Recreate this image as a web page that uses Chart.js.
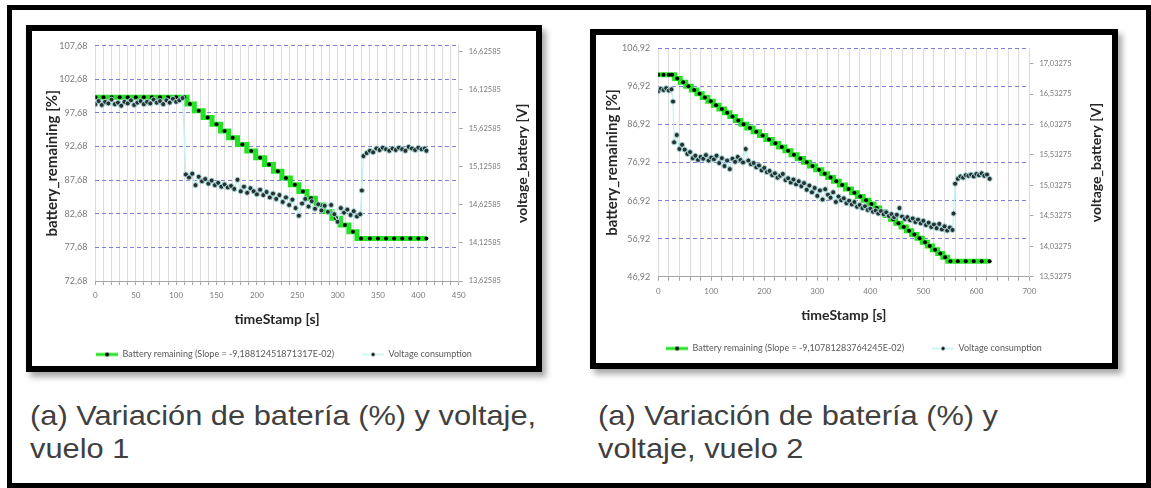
<!DOCTYPE html>
<html lang="es">
<head>
  <meta charset="UTF-8">
  <title>Variación de batería (%) y voltaje</title>
  <script src="https://cdn.jsdelivr.net/npm/chart.js"></script>
  <style>
    body {
      margin: 0;
      background: #fff;
      font-family: 'Liberation Sans', Arial, sans-serif;
    }
    .page {
      position: relative;
      width: 1151px;
      height: 488px;
      overflow: hidden;
    }
    .outer {
      position: absolute;
      left: 7px;
      top: 5px;
      width: 1144px;
      height: 483px;
      border: 5px solid #000;
      box-sizing: border-box;
    }
    .frame {
      position: absolute;
      border: 6px solid #000;
      box-sizing: border-box;
      background: #fff;
      box-shadow: 4px 5px 6px rgba(0, 0, 0, 0.35);
    }
    canvas {
      position: absolute;
    }
    .caption {
      position: absolute;
      top: 399px;
      font-size: 28px;
      line-height: 33px;
      color: #404040;
      white-space: nowrap;
      transform: scaleX(1.1);
      transform-origin: left top;
    }
  </style>
</head>
<body>
  <div class="page">
    <div class="outer"></div>

    <!-- vuelo 1 -->
    <div class="frame" style="left:26px; top:25px; width:516px; height:347px;"></div>
    <canvas id="vuelo1" width="504" height="338" style="left:32px; top:31px;"></canvas>
    <div class="caption" style="left:30px;">(a) Variación de batería (%) y voltaje,<br>vuelo 1</div>

    <!-- vuelo 2 -->
    <div class="frame" style="left:590px; top:29px; width:528px; height:340px;"></div>
    <canvas id="vuelo2" width="516" height="328" style="left:596px; top:35px;"></canvas>
    <div class="caption" style="left:598px;">(a) Variación de batería (%) y<br>voltaje, vuelo 2</div>
  </div>

  <script>
    // ---- vuelo 1: battery remaining [%] ----
    const v1BattT = [0, 10, 20, 30, 40, 50, 60, 70, 80, 90, 100, 110,
      117, 128, 139, 150, 160, 170, 182, 193, 204, 215, 226, 236, 247, 257, 267, 278, 288, 298, 309, 319, 329,
      340, 350, 360, 370, 380, 390, 400, 410];
    const v1BattPct = [100, 100, 100, 100, 100, 100, 100, 100, 100, 100, 100, 100,
      99, 98, 97, 96, 95, 94, 93, 92, 91, 90, 89, 88, 87, 86, 85, 84, 83, 82, 81, 80, 79,
      79, 79, 79, 79, 79, 79, 79, 79];

    // ---- vuelo 1: voltage_battery [V] ----
    const v1VoltT = [
      0, 4, 8, 12, 16, 20, 24, 28, 32, 36,
      40, 44, 48, 52, 56, 60, 64, 68, 72, 76,
      80, 84, 88, 92, 96, 100, 104, 108, 112, 116,
      120, 124, 128, 132, 136, 140, 144, 148, 152, 156,
      160, 164, 168, 172, 176, 180, 184, 188, 192, 196,
      200, 204, 208, 212, 216, 220, 224, 228, 232, 236,
      240, 244, 248, 252, 256, 260, 264, 268, 272, 276,
      280, 284, 288, 292, 296, 300, 304, 308, 312, 316,
      320, 324, 328, 330, 332, 336, 340, 344, 348, 352,
      356, 360, 364, 368, 372, 376, 380, 384, 388, 392,
      396, 400, 404, 408, 410];
    const v1Volt = [
      15.94, 15.98, 15.93, 15.97, 15.95, 16.00, 15.94, 15.96, 15.92, 15.97,
      15.95, 15.99, 15.93, 15.96, 15.98, 15.94, 15.97, 15.95, 16.00, 15.96,
      15.98, 15.94, 15.99, 15.96, 16.01, 15.97, 15.99, 16.02, 15.02, 14.98,
      15.03, 14.88, 14.99, 14.93, 14.96, 14.90, 14.94, 14.88, 14.91, 14.86,
      14.89, 14.85, 14.87, 14.83, 14.95, 14.80, 14.86, 14.78, 14.84, 14.80,
      14.76, 14.82, 14.75, 14.79, 14.72, 14.77, 14.70, 14.75, 14.66, 14.72,
      14.62, 14.69, 14.58, 14.48, 14.64, 14.70, 14.60, 14.67, 14.57, 14.63,
      14.55, 14.61, 14.53, 14.62, 14.50, 14.40, 14.58, 14.52, 14.56, 14.49,
      14.54, 14.47, 14.50, 14.81, 15.26, 15.30, 15.33, 15.31, 15.36, 15.34,
      15.37, 15.35, 15.33, 15.36, 15.34, 15.37, 15.35, 15.33, 15.38, 15.36,
      15.34, 15.37, 15.35, 15.36, 15.33];

    const v1XLabels = [0, 50, 100, 150, 200, 250, 300, 350, 400, 450];
    const v1PctTicks = [72.68, 77.68, 82.68, 87.68, 92.68, 97.68, 102.68, 107.68];
    const v1VoltTicks = [13.62585, 14.12585, 14.62585, 15.12585, 15.62585, 16.12585, 16.62585];
    const v1BattLabel = 'Battery remaining (Slope = -9,18812451871317E-02)';

    // ---- vuelo 2: battery remaining [%] ----
    const v2BattT = [0, 10, 20, 26,
      36, 47, 57, 68, 78, 88, 99, 109, 120, 130, 140, 151, 161,
      173, 185, 197, 209, 221, 233, 245, 256, 268, 280,
      291, 303, 314, 325, 336, 347, 359, 370, 381, 392,
      402, 412, 423, 433, 443, 453, 463, 473, 483, 493,
      503, 512, 522, 532, 541, 551,
      565, 580, 595, 610, 625];
    const v2BattPct = [100, 100, 100, 100,
      99, 98, 97, 96, 95, 94, 93, 92, 91, 90, 89, 88, 87,
      86, 85, 84, 83, 82, 81, 80, 79, 78, 77,
      76, 75, 74, 73, 72, 71, 70, 69, 68, 67,
      66, 65, 64, 63, 62, 61, 60, 59, 58, 57,
      56, 55, 54, 53, 52, 51,
      51, 51, 51, 51, 51];

    // ---- vuelo 2: voltage_battery [V] ----
    const v2VoltT = [
      0, 5, 10, 15, 20, 25, 28, 30, 35, 40,
      45, 50, 55, 60, 65, 70, 75, 80, 85, 90,
      95, 100, 105, 110, 115, 120, 125, 130, 135, 140,
      145, 150, 155, 160, 165, 170, 175, 180, 185, 190,
      195, 200, 205, 210, 215, 220, 225, 230, 235, 240,
      245, 250, 255, 260, 265, 270, 275, 280, 285, 290,
      295, 300, 305, 310, 315, 320, 325, 330, 335, 340,
      345, 350, 355, 360, 365, 370, 375, 380, 385, 390,
      395, 400, 405, 410, 415, 420, 425, 430, 435, 440,
      445, 450, 455, 460, 465, 470, 475, 480, 485, 490,
      495, 500, 505, 510, 515, 520, 525, 530, 535, 540,
      545, 550, 555, 557, 560, 565, 570, 575, 580, 585,
      590, 595, 600, 605, 610, 615, 620, 625];
    const v2Volt = [
      16.58, 16.62, 16.60, 16.63, 16.59, 16.61, 16.41, 15.74, 15.86, 15.63,
      15.70, 15.62, 15.55, 15.58, 15.48, 15.52, 15.45, 15.50, 15.47, 15.53,
      15.44, 15.49, 15.46, 15.52, 15.40, 15.48, 15.35, 15.44, 15.30, 15.47,
      15.42, 15.50, 15.45, 15.41, 15.63, 15.44, 15.38, 15.40, 15.33, 15.36,
      15.28, 15.32, 15.25, 15.27, 15.20, 15.23, 15.16, 15.19, 15.22, 15.12,
      15.15, 15.08, 15.13, 15.05, 15.10, 15.02, 15.07, 14.96, 15.03, 14.92,
      14.99, 14.86, 14.95, 14.80, 14.97, 14.88, 14.83, 14.92, 14.76, 14.85,
      14.79, 14.82, 14.74, 14.78, 14.72, 14.76, 14.68, 14.71, 14.66, 14.69,
      14.63, 14.65, 14.60, 14.62, 14.57, 14.61, 14.56, 14.59, 14.53, 14.56,
      14.51, 14.55, 14.66, 14.52, 14.48, 14.51, 14.46, 14.49, 14.43, 14.47,
      14.41, 14.45, 14.38, 14.42, 14.35, 14.39, 14.33, 14.40, 14.31, 14.36,
      14.29, 14.34, 14.30, 14.57, 15.06, 15.14, 15.18, 15.16, 15.20, 15.19,
      15.21, 15.18, 15.22, 15.20, 15.23, 15.19, 15.21, 15.14];

    const v2XLabels = [0, 100, 200, 300, 400, 500, 600, 700];
    const v2PctTicks = [46.92, 56.92, 66.92, 76.92, 86.92, 96.92, 106.92];
    const v2VoltTicks = [13.53275, 14.03275, 14.53275, 15.03275, 15.53275, 16.03275, 16.53275, 17.03275];
    const v2BattLabel = 'Battery remaining (Slope = -9,10781283764245E-02)';

    const GREEN = '#21e321';
    const fmt = (v, d) => v.toFixed(d).replace('.', ',');

    Chart.defaults.font.family = "Lato, 'Open Sans', sans-serif";

    // legend sample: short line with a black dot in the middle
    function legendIcon(color, width, r) {
      const c = document.createElement('canvas');
      c.width = 22;
      c.height = 8;
      const g = c.getContext('2d');
      g.strokeStyle = color;
      g.lineWidth = width;
      g.beginPath();
      g.moveTo(0, 4);
      g.lineTo(22, 4);
      g.stroke();
      g.fillStyle = '#000';
      g.beginPath();
      g.arc(11, 4, r, 0, Math.PI * 2);
      g.fill();
      return c;
    }
    const icons = [legendIcon(GREEN, 3, 2), legendIcon('#bff3f3', 1.5, 1.7)];

    // right axis title reads bottom-to-top, as in the left one
    const rightTitle = {
      id: 'rightTitle',
      afterDraw(chart, args, opts) {
        const { ctx, chartArea } = chart;
        ctx.save();
        ctx.font = "bold 14px Lato, 'Open Sans', sans-serif";
        ctx.fillStyle = '#262626';
        ctx.textAlign = 'center';
        ctx.textBaseline = 'middle';
        ctx.translate(opts.x, (chartArea.top + chartArea.bottom) / 2);
        ctx.rotate(-Math.PI / 2);
        ctx.fillText(opts.text, 0, 0);
        ctx.restore();
      }
    };

    function buildChart(id, s) {
      return new Chart(document.getElementById(id), {
        type: 'line',
        data: {
          datasets: [
            {
              label: s.battLabel,
              data: s.battT.map((t, i) => ({ x: t, y: s.battPct[i] })),
              yAxisID: 'y',
              stepped: 'middle',
              borderColor: GREEN,
              borderWidth: 5,
              pointRadius: 2,
              pointBackgroundColor: '#000',
              pointBorderWidth: 0,
              order: 2
            },
            {
              label: 'Voltage consumption',
              data: s.voltT.map((t, i) => ({ x: t, y: s.volt[i] })),
              yAxisID: 'y1',
              borderColor: '#bff3f3',
              borderWidth: 1.2,
              pointRadius: 2.5,
              pointBackgroundColor: '#263030',
              pointBorderColor: '#a4d4d4',
              pointBorderWidth: 1,
              order: 1
            }
          ]
        },
        options: {
          responsive: false,
          animation: false,
          events: [],
          layout: { padding: { top: s.padTop, left: 0, right: 0, bottom: 0 }, autoPadding: false },
          scales: {
            x: {
              type: 'linear',
              min: 0,
              max: s.xMax,
              afterBuildTicks: sc => {
                const t = [];
                for (let v = 0; v <= s.xMax; v += s.xMinor) t.push({ value: v });
                sc.ticks = t;
              },
              afterFit: sc => { sc.height = s.xH; },
              grid: { color: '#dcdcdc', tickColor: '#a6a6a6', tickLength: 4 },
              border: { color: '#a6a6a6', dash: [] },
              ticks: {
                autoSkip: false,
                maxRotation: 0,
                padding: 6,
                color: '#7a7a7a',
                font: { size: 8 },
                callback: v => s.xLabels.includes(v) ? String(v) : ''
              },
              title: {
                display: true,
                text: 'timeStamp [s]',
                color: '#262626',
                font: { size: 14, weight: 'bold' },
                padding: { top: 0, bottom: s.xTitlePad }
              }
            },
            y: {
              position: 'left',
              min: s.pctTicks[0],
              max: s.pctTicks[s.pctTicks.length - 1],
              afterBuildTicks: sc => { sc.ticks = s.pctTicks.map(v => ({ value: v })); },
              afterFit: sc => { sc.width = s.yW; },
              grid: { color: '#8080dc', drawTicks: false },
              border: { display: false, dash: [4, 3] },
              ticks: {
                autoSkip: false,
                padding: 8,
                color: '#7a7a7a',
                font: { size: 9 },
                callback: v => fmt(v, 2)
              },
              title: {
                display: true,
                text: 'battery_remaining [%]',
                color: '#262626',
                font: { size: 15, weight: 'bold' },
                padding: { top: s.yTitlePad, bottom: 0 }
              }
            },
            y1: {
              position: 'right',
              min: s.voltTicks[0],
              max: s.voltMax,
              afterBuildTicks: sc => { sc.ticks = s.voltTicks.map(v => ({ value: v })); },
              afterFit: sc => { sc.width = s.y1W; },
              grid: { drawOnChartArea: false, color: '#a6a6a6', tickLength: 4 },
              border: { display: true, color: '#d9d9d9' },
              ticks: {
                autoSkip: false,
                padding: 6,
                color: '#7a7a7a',
                font: { size: 7.5 },
                callback: v => fmt(v, 5)
              }
            }
          },
          plugins: {
            tooltip: { enabled: false },
            rightTitle: { text: 'voltage_battery [V]', x: s.rightTitleX },
            legend: {
              position: 'bottom',
              labels: {
                usePointStyle: true,
                pointStyleWidth: 22,
                padding: 28,
                color: '#595959',
                font: { size: 9 },
                generateLabels: ch => ch.data.datasets.map((d, i) => ({
                  text: d.label,
                  pointStyle: icons[i],
                  fillStyle: '#000',
                  strokeStyle: '#000',
                  lineWidth: 0,
                  hidden: false,
                  datasetIndex: i,
                  fontColor: '#595959'
                }))
              }
            }
          }
        },
        plugins: [rightTitle]
      });
    }

    buildChart('vuelo1', {
      battT: v1BattT, battPct: v1BattPct, voltT: v1VoltT, volt: v1Volt,
      battLabel: v1BattLabel, xLabels: v1XLabels, pctTicks: v1PctTicks, voltTicks: v1VoltTicks,
      xMax: 450, xMinor: 10, voltMax: 16.705,
      padTop: 14.7, yW: 63.4, y1W: 77.3, xH: 41, xTitlePad: -5.4, yTitlePad: 11, rightTitleX: 490
    });

    buildChart('vuelo2', {
      battT: v2BattT, battPct: v2BattPct, voltT: v2VoltT, volt: v2Volt,
      battLabel: v2BattLabel, xLabels: v2XLabels, pctTicks: v2PctTicks, voltTicks: v2VoltTicks,
      xMax: 700, xMinor: 20, voltMax: 17.28275,
      padTop: 11.7, yW: 62.2, y1W: 82.6, xH: 39.3, xTitlePad: -7.4, yTitlePad: 7.6, rightTitleX: 500
    });
  </script>
</body>
</html>
